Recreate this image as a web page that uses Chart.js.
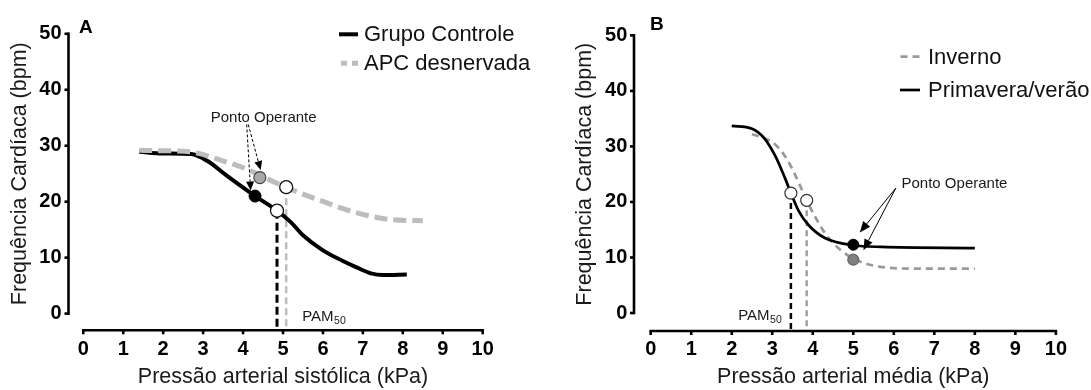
<!DOCTYPE html>
<html>
<head>
<meta charset="utf-8">
<script src="https://cdn.jsdelivr.net/npm/chart.js@4.4.1/dist/chart.umd.min.js"></script>
<style>
  html, body { margin: 0; padding: 0; background: #fff; }
  #wrap { position: relative; width: 1091px; height: 390px; overflow: hidden; background: #fff; }
  canvas { position: absolute; top: 0; }
  #cA { left: 0; }
  #cB { left: 546px; }
</style>
</head>
<body>
<div id="wrap">
  <canvas id="cA" width="546" height="390"></canvas>
  <canvas id="cB" width="545" height="390"></canvas>
</div>
<script>
const FONTE = "'Liberation Sans', Arial, Helvetica, sans-serif";

// Marcas dos eixos
const ticksX = [0, 1, 2, 3, 4, 5, 6, 7, 8, 9, 10];
const ticksY = [0, 10, 20, 30, 40, 50];

// Painel A — frequência cardíaca × pressão arterial sistólica (kPa)
const pasControle = [1.4, 2.0, 2.7, 3.1, 3.6, 4.1, 4.3, 4.85, 5.2, 5.5, 6.0, 6.5, 6.8, 7.2, 7.5, 8.1];
const fcControle  = [28.9, 28.6, 28.5, 27.3, 24.6, 22.0, 21.0, 18.4, 16.3, 14.0, 11.3, 9.4, 8.4, 7.2, 6.9, 7.0];
const pasApc      = [1.4, 2.0, 2.7, 3.4, 4.1, 4.45, 5.1, 5.9, 6.8, 7.7, 8.5];
const fcApc       = [29.2, 29.1, 28.9, 27.5, 25.8, 24.6, 22.5, 20.3, 18.1, 16.8, 16.6];
const pam50A      = [4.85, 5.08];   // controle, APC desnervada
const fcPam50A    = [18.4, 22.6];
const pontoOpA    = [4.30, 4.42];   // controle, APC desnervada
const fcPontoOpA  = [21.0, 24.3];

// Painel B — frequência cardíaca × pressão arterial média (kPa)
const pamPrimavera = [2.0, 2.5, 2.8, 3.08, 3.32, 3.46, 3.65, 3.9, 4.3, 5.0, 5.7, 8.0];
const fcPrimavera  = [33.7, 33.2, 31.5, 28.2, 24.2, 21.6, 18.4, 15.8, 13.5, 12.2, 11.9, 11.7];
const pamInverno   = [2.5, 2.83, 3.08, 3.32, 3.57, 3.85, 4.06, 4.3, 4.71, 5.19, 5.68, 6.5, 8.0];
const fcInverno    = [32.2, 31.4, 30.3, 28.2, 24.8, 20.3, 17.3, 14.4, 11.2, 9.2, 8.3, 8.0, 8.0];
const pam50B       = [3.46, 3.85];  // primavera/verão, inverno
const fcPam50B     = [21.6, 20.3];
const pontoOpB     = [5.0, 5.0];    // primavera/verão, inverno
const fcPontoOpB   = [12.3, 9.6];

const pares = (xs, ys) => xs.map((x, i) => ({ x, y: ys[i] }));

function curva(label, xs, ys, cor, largura, dash, ordem) {
  return {
    label, data: pares(xs, ys), borderColor: cor, borderWidth: largura, borderDash: dash,
    pointRadius: 0, fill: false, cubicInterpolationMode: 'monotone', borderJoinStyle: 'round', order: ordem
  };
}
function ponto(x, y, raio, fundo, borda, larguraBorda) {
  return {
    label: '', data: [{ x, y }], showLine: false, pointRadius: raio, pointBackgroundColor: fundo,
    pointBorderColor: borda, pointBorderWidth: larguraBorda, order: -1
  };
}

function seta(ctx, x0, y0, x1, y1, comp, meia) {
  const a = Math.atan2(y1 - y0, x1 - x0);
  const bx = x1 - comp * Math.cos(a), by = y1 - comp * Math.sin(a);
  ctx.beginPath(); ctx.moveTo(x0, y0); ctx.lineTo(bx, by); ctx.stroke();
  ctx.save(); ctx.setLineDash([]);
  ctx.beginPath();
  ctx.moveTo(x1, y1);
  ctx.lineTo(bx + meia * Math.sin(a), by - meia * Math.cos(a));
  ctx.lineTo(bx - meia * Math.sin(a), by + meia * Math.cos(a));
  ctx.closePath(); ctx.fill();
  ctx.restore();
}

// Eixos deslocados, linhas de queda, legenda e anotações
const painelPlugin = {
  id: 'painel',
  beforeDatasetsDraw(chart, args, o) {
    const { ctx, scales: { x, y } } = chart;
    const eixoYpx = y.getPixelForValue(0) + o.eixo.dy;
    ctx.save();
    o.quedas.forEach(q => {
      const px = x.getPixelForValue(q.x);
      ctx.beginPath();
      ctx.setLineDash(q.dash);
      ctx.strokeStyle = q.cor; ctx.lineWidth = q.largura;
      ctx.moveTo(px, y.getPixelForValue(q.y));
      ctx.lineTo(px, eixoYpx);
      ctx.stroke();
    });
    ctx.restore();
  },
  afterDraw(chart, args, o) {
    const { ctx, scales: { x, y } } = chart;
    const lw = o.eixo.largura;
    const axX = x.getPixelForValue(0) - o.eixo.dx;      // linha do eixo Y
    const axY = y.getPixelForValue(0) + o.eixo.dy;      // linha do eixo X
    ctx.save();
    ctx.strokeStyle = '#000'; ctx.lineWidth = lw; ctx.setLineDash([]); ctx.lineCap = 'butt';
    // eixo Y
    ctx.beginPath();
    ctx.moveTo(axX, y.getPixelForValue(50) - lw / 2);
    ctx.lineTo(axX, y.getPixelForValue(0) + lw / 2);
    ctx.stroke();
    ticksY.forEach(v => {
      const py = y.getPixelForValue(v);
      ctx.beginPath(); ctx.moveTo(axX - o.eixo.tick, py); ctx.lineTo(axX, py); ctx.stroke();
    });
    // eixo X
    ctx.beginPath();
    ctx.moveTo(x.getPixelForValue(0) - lw / 2, axY);
    ctx.lineTo(x.getPixelForValue(10) + lw / 2, axY);
    ctx.stroke();
    ticksX.forEach(v => {
      const px = x.getPixelForValue(v);
      ctx.beginPath(); ctx.moveTo(px, axY); ctx.lineTo(px, axY + o.eixo.tick); ctx.stroke();
    });

    // setas "Ponto Operante"
    o.setas.forEach(s => {
      ctx.strokeStyle = s.cor; ctx.fillStyle = s.cor; ctx.lineWidth = s.largura;
      ctx.setLineDash(s.dash);
      seta(ctx, x.getPixelForValue(s.de[0]), y.getPixelForValue(s.de[1]),
        x.getPixelForValue(s.para[0]), y.getPixelForValue(s.para[1]), s.comp, s.meia);
    });
    ctx.setLineDash([]);

    // textos de anotação
    ctx.fillStyle = '#1a1a1a';
    o.textos.forEach(t => {
      ctx.font = `${t.tamanho}px ${FONTE}`;
      ctx.textBaseline = t.base; ctx.textAlign = 'left';
      const px = x.getPixelForValue(t.x), py = y.getPixelForValue(t.y);
      ctx.fillText(t.texto, px, py);
      if (t.sub) {
        const w = ctx.measureText(t.texto).width;
        ctx.font = `${t.tamanhoSub}px ${FONTE}`;
        ctx.fillText(t.sub, px + w + 0.5, py + t.descSub);
      }
    });

    // letra do painel
    ctx.font = `bold 19px ${FONTE}`;
    ctx.fillStyle = '#000'; ctx.textBaseline = 'alphabetic'; ctx.textAlign = 'left';
    ctx.fillText(o.letra.texto, o.letra.x, o.letra.y);

    // legenda
    o.legenda.forEach(it => {
      const ds = chart.data.datasets[it.ds];
      ctx.beginPath();
      ctx.strokeStyle = ds.borderColor; ctx.lineWidth = ds.borderWidth;
      ctx.setLineDash(it.dash);
      ctx.moveTo(it.x0, it.y); ctx.lineTo(it.x1, it.y); ctx.stroke();
      ctx.setLineDash([]);
      ctx.font = `22px ${FONTE}`;
      ctx.fillStyle = '#111'; ctx.textBaseline = 'middle';
      ctx.fillText(ds.label, it.tx, it.y + 1);
    });
    ctx.restore();
  }
};

function montar(id, cfg) {
  return new Chart(document.getElementById(id), {
    type: 'line',
    data: { datasets: cfg.datasets },
    options: {
      responsive: false, animation: false, devicePixelRatio: 1, events: [],
      layout: { padding: { left: 0, top: cfg.area.top, right: cfg.largura - cfg.area.right, bottom: 0 } },
      plugins: { legend: { display: false }, tooltip: { enabled: false }, painel: cfg.painel },
      scales: {
        x: {
          type: 'linear', min: 0, max: 10,
          afterBuildTicks: s => { s.ticks = ticksX.map(v => ({ value: v })); },
          afterFit: s => { s.height = 390 - cfg.area.bottom; },
          grid: { display: false, drawTicks: false }, border: { display: false },
          ticks: { color: '#000', font: { family: FONTE, size: 20, weight: 'bold' }, padding: 24, maxRotation: 0, autoSkip: false },
          title: { display: true, text: cfg.tituloX, color: '#1a1a1a', font: { family: FONTE, size: 21.5 }, padding: { top: 0, bottom: 0 } }
        },
        y: {
          type: 'linear', min: 0, max: 50,
          afterBuildTicks: s => { s.ticks = ticksY.map(v => ({ value: v })); },
          afterFit: s => { s.width = cfg.area.left; },
          grid: { display: false, drawTicks: false }, border: { display: false },
          ticks: { color: '#000', font: { family: FONTE, size: 20, weight: 'bold' }, padding: cfg.padTicksY },
          title: { display: true, text: 'Frequência Cardíaca (bpm)', color: '#1a1a1a', font: { family: FONTE, size: 21.5 }, padding: { top: cfg.padTituloY, bottom: 0 } }
        }
      }
    },
    plugins: [painelPlugin]
  });
}

// Painel A
montar('cA', {
  largura: 546,
  area: { left: 83.3, right: 482.7, top: 22.6, bottom: 313.6 },
  padTicksY: 21.8, padTituloY: 7.1,
  tituloX: 'Pressão arterial sistólica (kPa)',
  datasets: [
    curva('Grupo Controle', pasControle, fcControle, '#000', 4, [], 2),
    curva('APC desnervada', pasApc, fcApc, '#bdbdbd', 5, [13, 6], 1),
    ponto(pontoOpA[0], fcPontoOpA[0], 6, '#000', '#000', 1),
    ponto(pontoOpA[1], fcPontoOpA[1], 6, '#a9a9a9', '#444', 1.2),
    ponto(pam50A[0], fcPam50A[0], 6.5, '#fff', '#111', 1.3),
    ponto(pam50A[1], fcPam50A[1], 6.5, '#fff', '#111', 1.3)
  ],
  painel: {
    eixo: { dx: 14.8, dy: 16.7, largura: 2.6, tick: 4 },
    quedas: [
      { x: pam50A[0], y: fcPam50A[0], cor: '#000', largura: 3, dash: [8, 4] },
      { x: pam50A[1], y: fcPam50A[1], cor: '#bdbdbd', largura: 2.5, dash: [7, 4] }
    ],
    setas: [
      { de: [4.09, 33.8], para: [4.19, 22.0], cor: '#000', largura: 1, dash: [3, 2], comp: 9, meia: 4 },
      { de: [4.13, 33.8], para: [4.44, 25.65], cor: '#000', largura: 1, dash: [3, 2], comp: 9, meia: 4 }
    ],
    textos: [
      { texto: 'Ponto Operante', x: 3.19, y: 34.9, tamanho: 15, base: 'middle' },
      { texto: 'PAM', sub: '50', x: 5.48, y: -1.36, tamanho: 15, tamanhoSub: 10.5, descSub: 3, base: 'alphabetic' }
    ],
    letra: { texto: 'A', x: 79, y: 33 },
    legenda: [
      { ds: 0, x0: 339, x1: 358, y: 34.3, tx: 364, dash: [] },
      { ds: 1, x0: 341, x1: 358, y: 63.3, tx: 364, dash: [6, 5] }
    ]
  }
});

// Painel B
montar('cB', {
  largura: 545,
  area: { left: 104.7, right: 514, top: 22.3, bottom: 313 },
  padTicksY: 23.4, padTituloY: 26.1,
  tituloX: 'Pressão arterial média (kPa)',
  datasets: [
    curva('Inverno', pamInverno, fcInverno, '#999', 2.7, [7, 5], 2),
    curva('Primavera/verão', pamPrimavera, fcPrimavera, '#000', 2.7, [], 1),
    ponto(pontoOpB[0], fcPontoOpB[0], 5.5, '#000', '#000', 1),
    ponto(pontoOpB[1], fcPontoOpB[1], 5.5, '#808080', '#666', 1.2),
    ponto(pam50B[0], fcPam50B[0], 6, '#fff', '#333', 1.2),
    ponto(pam50B[1], fcPam50B[1], 6, '#fff', '#333', 1.2)
  ],
  painel: {
    eixo: { dx: 16.7, dy: 18, largura: 2.6, tick: 4 },
    quedas: [
      { x: pam50B[0], y: fcPam50B[0], cor: '#000', largura: 2.5, dash: [6, 4] },
      { x: pam50B[1], y: fcPam50B[1], cor: '#999', largura: 2.3, dash: [6, 4] }
    ],
    setas: [
      { de: [6.05, 22.5], para: [5.16, 14.5], cor: '#000', largura: 1, dash: [], comp: 11, meia: 4.5 },
      { de: [6.05, 22.5], para: [5.25, 11.3], cor: '#000', largura: 1, dash: [], comp: 11, meia: 4.5 }
    ],
    textos: [
      { texto: 'Ponto Operante', x: 6.19, y: 23.2, tamanho: 15, base: 'middle' },
      { texto: 'PAM', sub: '50', x: 2.16, y: -1.18, tamanho: 15, tamanhoSub: 10.5, descSub: 3, base: 'alphabetic' }
    ],
    letra: { texto: 'B', x: 104, y: 29.5 },
    legenda: [
      { ds: 0, x0: 354.5, x1: 374, y: 56.7, tx: 382, dash: [7, 5] },
      { ds: 1, x0: 354, x1: 374, y: 90, tx: 382, dash: [] }
    ]
  }
});
</script>
</body>
</html>
